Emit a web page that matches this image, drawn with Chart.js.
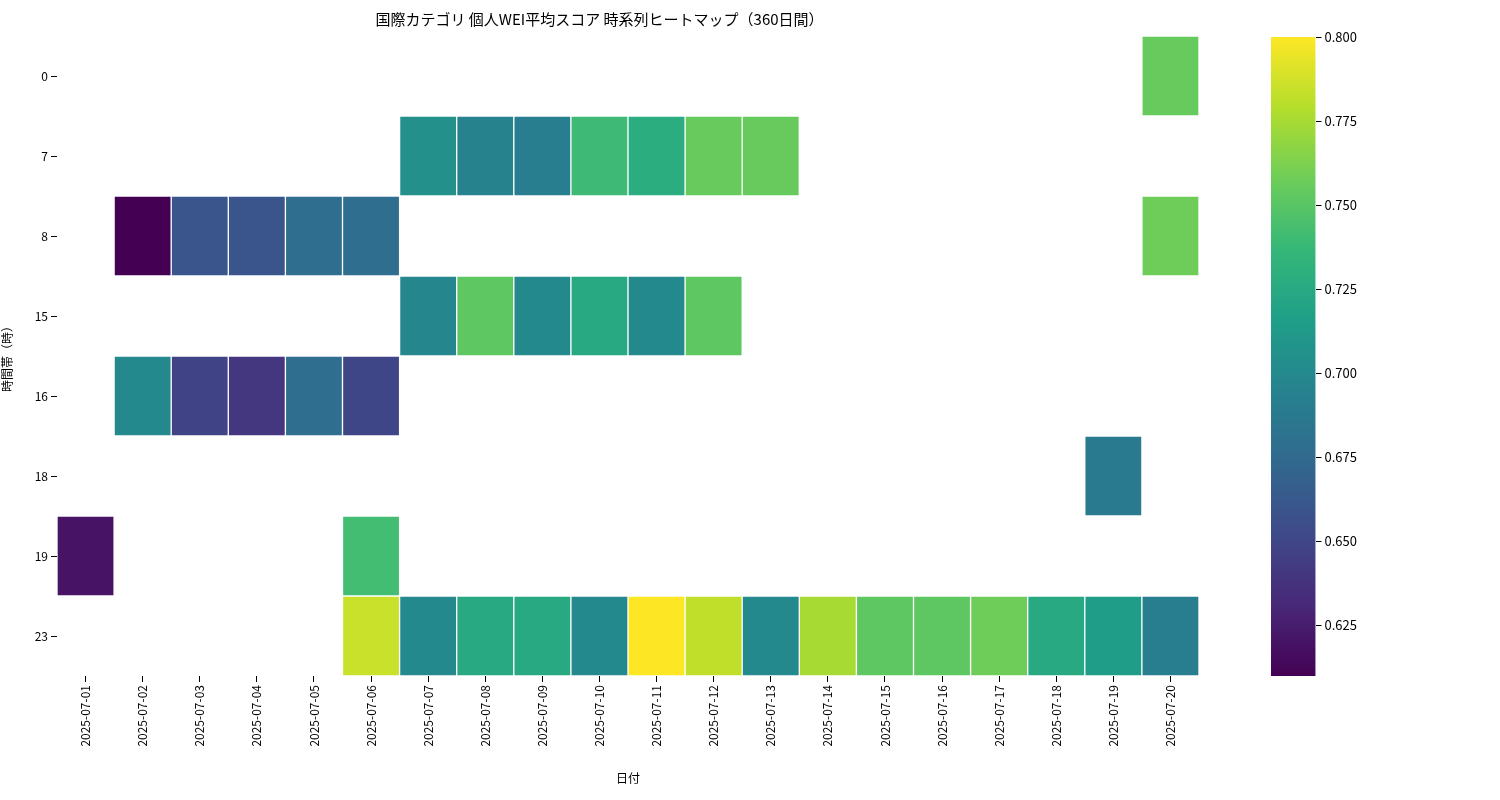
<!DOCTYPE html>
<html><head><meta charset="utf-8">
<script src="https://cdn.jsdelivr.net/npm/chart.js@4"></script>
<style>body{margin:0;background:#fff;font-family:"Noto Sans CJK JP";}
#c1{position:absolute;left:0;top:0}#c2{position:absolute;left:1240px;top:0}</style>
</head><body>
<canvas id="c1" width="1240" height="800"></canvas>
<canvas id="c2" width="120" height="800"></canvas>
<script>
const dates=["2025-07-01","2025-07-02","2025-07-03","2025-07-04","2025-07-05","2025-07-06","2025-07-07","2025-07-08","2025-07-09","2025-07-10","2025-07-11","2025-07-12","2025-07-13","2025-07-14","2025-07-15","2025-07-16","2025-07-17","2025-07-18","2025-07-19","2025-07-20"];
const hours=["0","7","8","15","16","18","19","23"];
const h0={"2025-07-20":0.755};
const h7={"2025-07-07":0.705,"2025-07-08":0.695,"2025-07-09":0.690,"2025-07-10":0.740,"2025-07-11":0.728,"2025-07-12":0.755,"2025-07-13":0.755};
const h8={"2025-07-02":0.610,"2025-07-03":0.660,"2025-07-04":0.660,"2025-07-05":0.678,"2025-07-06":0.678,"2025-07-20":0.758};
const h15={"2025-07-07":0.698,"2025-07-08":0.752,"2025-07-09":0.700,"2025-07-10":0.725,"2025-07-11":0.700,"2025-07-12":0.752};
const h16={"2025-07-02":0.700,"2025-07-03":0.648,"2025-07-04":0.640,"2025-07-05":0.678,"2025-07-06":0.650};
const h18={"2025-07-19":0.688};
const h19={"2025-07-01":0.620,"2025-07-06":0.742};
const h23={"2025-07-06":0.785,"2025-07-07":0.700,"2025-07-08":0.725,"2025-07-09":0.725,"2025-07-10":0.700,"2025-07-11":0.800,"2025-07-12":0.782,"2025-07-13":0.700,"2025-07-14":0.775,"2025-07-15":0.752,"2025-07-16":0.752,"2025-07-17":0.758,"2025-07-18":0.725,"2025-07-19":0.715,"2025-07-20":0.690};
const rows=[h0,h7,h8,h15,h16,h18,h19,h23];
const vmin=0.61,vmax=0.80;
const cbTicks=[0.625,0.65,0.675,0.7,0.725,0.75,0.775,0.8];
const stops=[[68,1,84],[72,40,120],[62,74,137],[49,104,142],[38,130,142],[31,158,137],[53,183,121],[109,205,89],[180,222,44],[253,231,37]];
function viridis(v){let t=Math.min(1,Math.max(0,(v-vmin)/(vmax-vmin)))*(stops.length-1);let i=Math.min(stops.length-2,Math.floor(t)),f=t-i;const a=stops[i],b=stops[i+1];return `rgb(${a.map((x,k)=>Math.round(x+(b[k]-x)*f)).join(",")})`;}
Chart.defaults.font.family='"Noto Sans CJK JP"';Chart.defaults.color='#222';
const datasets=rows.map((r,i)=>{const data=[],cols=[];for(const d in r){data.push({x:d,y:[i-0.5,i+0.5],v:r[d]});cols.push(viridis(r[d]));}
return {data,backgroundColor:cols,borderColor:'#fff',borderWidth:1,borderSkipped:false,barPercentage:1,categoryPercentage:1,grouped:false};});
const tickGrid={display:true,drawOnChartArea:false,drawTicks:true,tickLength:6,color:'#000',tickColor:'#000'};
new Chart(document.getElementById('c1'),{type:'bar',data:{labels:dates,datasets},
options:{responsive:false,animation:false,layout:{padding:{left:0,right:41,top:0,bottom:14}},
plugins:{legend:{display:false},tooltip:{enabled:false},title:{display:true,text:"国際カテゴリ 個人WEI平均スコア 時系列ヒートマップ（360日間）",font:{size:15,weight:'normal'},color:'#000',padding:{top:10,bottom:8}}},
scales:{x:{grid:{...tickGrid,offset:false},border:{display:false},afterFit:a=>{a.height=110;},ticks:{maxRotation:90,minRotation:90,font:{size:12},color:'#000'},title:{display:true,text:'日付',font:{size:12},color:'#000',padding:0}},
y:{type:'linear',reverse:true,min:-0.5,max:7.5,afterFit:a=>{a.width=57;},afterBuildTicks:a=>{a.ticks=hours.map((h,i)=>({value:i}));},grid:tickGrid,border:{display:false},ticks:{callback:(v)=>hours[v],font:{size:12},color:'#000'},title:{display:true,text:'時間帯（時）',font:{size:12},color:'#000',padding:{top:0,bottom:8}}}}}});
new Chart(document.getElementById('c2'),{type:'bar',data:{labels:['cb'],datasets:[{data:[[vmin,vmax]],barPercentage:1,categoryPercentage:1,
backgroundColor:(ctx)=>{const ca=ctx.chart.chartArea;if(!ca)return '#888';const g=ctx.chart.ctx.createLinearGradient(0,ca.bottom,0,ca.top);stops.forEach((s,i)=>g.addColorStop(i/(stops.length-1),`rgb(${s.join(',')})`));return g;}}]},
options:{responsive:false,animation:false,layout:{padding:{left:31,top:37,bottom:124,right:0}},plugins:{legend:{display:false},tooltip:{enabled:false}},
scales:{x:{display:false},y:{position:'right',min:vmin,max:vmax,afterBuildTicks:a=>{a.ticks=cbTicks.map(v=>({value:v}));},grid:tickGrid,border:{display:false},ticks:{callback:v=>v.toFixed(3),font:{size:13},color:'#000'}}}}});
</script></body></html>
